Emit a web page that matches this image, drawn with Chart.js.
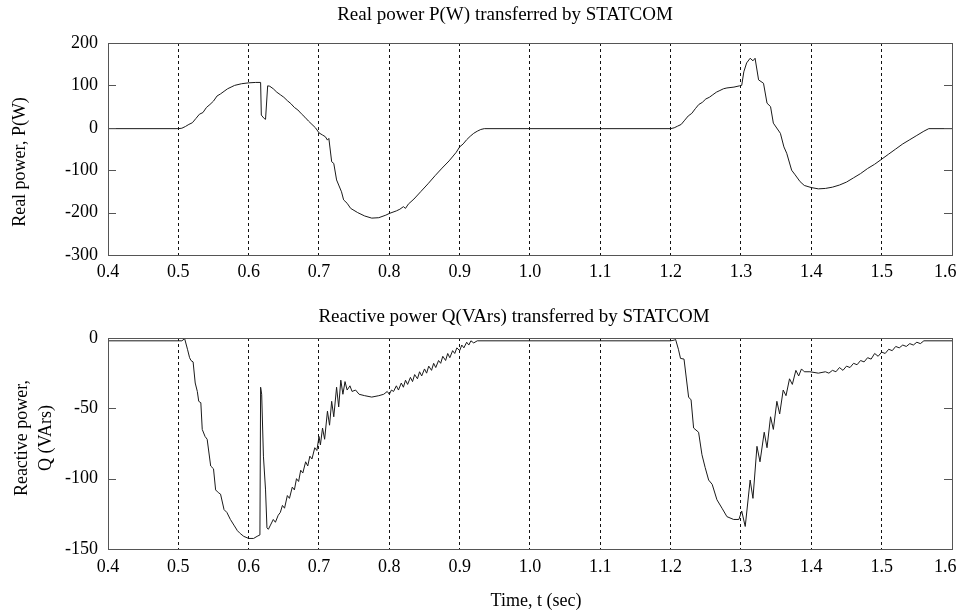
<!DOCTYPE html>
<html>
<head>
<meta charset="utf-8">
<script src="https://cdn.jsdelivr.net/npm/chart.js@4.4.1/dist/chart.umd.min.js"></script>
<style>
  html, body { margin: 0; padding: 0; background: #fff; }
  #wrap { position: relative; width: 960px; height: 612px; }
  #c1 { position: absolute; left: 0; top: 0; }
  #c2 { position: absolute; left: 0; top: 290px; }
</style>
</head>
<body>
<div id="wrap">
  <canvas id="c1" width="960" height="290"></canvas>
  <canvas id="c2" width="960" height="322"></canvas>
</div>
<script>
// ---- Titles and labels ----
const titleP = "Real power P(W) transferred by STATCOM";
const titleQ = "Reactive power Q(VArs) transferred by STATCOM";
const yLabelP = ["Real power, P(W)"];
const yLabelQ = ["Reactive power,", "Q (VArs)"];
const xLabel = "Time, t (sec)";

// ---- Axis ticks ----
const xTicks = [0.4, 0.5, 0.6, 0.7, 0.8, 0.9, 1.0, 1.1, 1.2, 1.3, 1.4, 1.5, 1.6];
const yTicksP = [200, 100, 0, -100, -200, -300];
const yTicksQ = [0, -50, -100, -150];

// ---- Real power P(W) ----
const timeP = [
  0.400, 0.500, 0.505, 0.510, 0.515, 0.520, 0.525, 0.530, 0.535, 0.540,
  0.545, 0.550, 0.555, 0.560, 0.565, 0.570, 0.575, 0.580, 0.590, 0.600,
  0.610, 0.617, 0.618, 0.622, 0.624, 0.627, 0.630, 0.635, 0.640, 0.645,
  0.650, 0.655, 0.660, 0.665, 0.670, 0.675, 0.680, 0.685, 0.690, 0.695,
  0.700, 0.705, 0.709, 0.712, 0.714, 0.718, 0.721, 0.725, 0.728, 0.732,
  0.735, 0.740, 0.745, 0.755, 0.765, 0.775, 0.785, 0.795, 0.800, 0.810,
  0.815, 0.820, 0.823, 0.827, 0.835, 0.845, 0.855, 0.865, 0.875, 0.885,
  0.895, 0.900, 0.905, 0.910, 0.915, 0.920, 0.925, 0.930, 0.935, 1.200,
  1.205, 1.210, 1.215, 1.220, 1.225, 1.230, 1.235, 1.240, 1.245, 1.250,
  1.255, 1.260, 1.265, 1.270, 1.275, 1.280, 1.290, 1.298, 1.301, 1.304,
  1.308, 1.313, 1.317, 1.320, 1.325, 1.332, 1.337, 1.342, 1.346, 1.356,
  1.361, 1.365, 1.372, 1.377, 1.384, 1.390, 1.400, 1.410, 1.420, 1.430,
  1.440, 1.450, 1.460, 1.470, 1.480, 1.490, 1.500, 1.510, 1.520, 1.530,
  1.540, 1.550, 1.560, 1.567, 1.600
];
const valueP = [
  -2, -2, -1, 3, 8, 12, 22, 32, 36, 48,
  55, 63, 75, 80, 86, 92, 96, 100, 104, 106,
  107, 107, 30, 22, 20, 99, 98, 92, 84, 78,
  72, 64, 57, 48, 42, 33, 25, 16, 8, 0,
  -12, -17, -21, -29, -25, -80, -84, -123, -135, -151,
  -170, -178, -190, -200, -208, -213, -212, -206, -202, -196,
  -192, -186, -190, -180, -168, -150, -132, -113, -95, -78,
  -58, -45, -38, -28, -20, -13, -8, -4, -2, -2,
  0, 4, 8, 18, 28, 34, 45, 55, 60, 68,
  72, 78, 84, 88, 92, 94, 96, 99, 100, 132,
  153, 164, 158, 164, 113, 105, 58, 50, 11, -13,
  -45, -60, -100, -111, -127, -136, -141, -144, -143, -140,
  -135, -128, -118, -108, -96, -86, -74, -62, -50, -38,
  -28, -18, -8, -2, -2
];

// ---- Reactive power Q(VArs) ----
const timeQ = [
  0.400, 0.500, 0.505, 0.509, 0.513, 0.516, 0.518, 0.521, 0.524, 0.527,
  0.529, 0.532, 0.534, 0.538, 0.541, 0.546, 0.550, 0.553, 0.557, 0.560,
  0.565, 0.569, 0.574, 0.579, 0.584, 0.588, 0.593, 0.600, 0.607, 0.612,
  0.616, 0.617, 0.6185, 0.621, 0.624, 0.626, 0.628, 0.631, 0.635, 0.638,
  0.642, 0.645, 0.648, 0.651, 0.655, 0.658, 0.662, 0.665, 0.668, 0.671,
  0.674, 0.677, 0.681, 0.684, 0.687, 0.690, 0.694, 0.697, 0.700, 0.702,
  0.705, 0.708, 0.712, 0.715, 0.718, 0.721, 0.725, 0.728, 0.731, 0.734,
  0.737, 0.740, 0.744, 0.747, 0.752, 0.757, 0.765, 0.775, 0.785, 0.792,
  0.797, 0.800, 0.803, 0.806, 0.810, 0.813, 0.817, 0.820, 0.823, 0.826,
  0.830, 0.833, 0.836, 0.840, 0.843, 0.846, 0.850, 0.853, 0.856, 0.860,
  0.863, 0.866, 0.870, 0.873, 0.876, 0.880, 0.883, 0.886, 0.890, 0.893,
  0.896, 0.900, 0.903, 0.906, 0.910, 0.913, 0.916, 0.920, 0.925, 1.200,
  1.205, 1.207, 1.211, 1.214, 1.219, 1.2255, 1.229, 1.2326, 1.2397, 1.2445,
  1.249, 1.254, 1.259, 1.2658, 1.273, 1.280, 1.2895, 1.297, 1.301, 1.306,
  1.313, 1.317, 1.3227, 1.327, 1.333, 1.337, 1.342, 1.346, 1.351, 1.355,
  1.360, 1.364, 1.369, 1.373, 1.378, 1.382, 1.386, 1.390, 1.398, 1.410,
  1.420, 1.425, 1.430, 1.435, 1.440, 1.445, 1.450, 1.455, 1.460, 1.465,
  1.470, 1.475, 1.480, 1.485, 1.490, 1.495, 1.500, 1.505, 1.510, 1.515,
  1.520, 1.525, 1.530, 1.535, 1.540, 1.545, 1.550, 1.555, 1.560, 1.600
];
const valueQ = [
  -2, -2, -2, -0.5, -8, -14, -16, -17, -32, -38,
  -45, -46, -65, -70, -72, -91, -93, -108, -110, -111,
  -122, -124, -129, -133, -137, -139, -141, -142.5, -142.5, -141,
  -140, -35, -40, -84, -108, -135, -136, -133, -129, -131,
  -126, -124, -119, -121, -112, -114, -106, -108, -100, -102,
  -94, -96, -88, -91, -84, -86, -78, -80, -70, -76,
  -64, -72, -52, -62, -45, -56, -35, -49, -30, -40,
  -31, -37, -34, -38, -37, -40, -41, -42, -41, -40,
  -38, -40, -37, -38, -34, -37, -32, -35, -30, -33,
  -28, -31, -26, -29, -24, -27, -22, -25, -20, -23,
  -18, -21, -16, -18, -13, -16, -11, -14, -9, -11,
  -7, -9, -5, -7, -3, -5, -2, -3.5, -2, -2,
  -1.5, -1, -8, -14.5, -15, -42, -44, -64, -67, -83,
  -92, -101, -104, -115, -121, -127, -129, -129, -123, -134,
  -101, -114, -77, -88, -67, -78, -56, -65, -45, -54,
  -37, -41, -29, -33, -23, -27, -22, -24, -24, -25,
  -24, -25, -23, -24, -21, -23, -20, -21, -18, -19,
  -16, -17, -14, -15, -11, -13, -10, -11, -8, -9,
  -6, -7, -5, -6, -4, -5, -3, -4, -2, -2
];

const FONT = "'Liberation Serif', 'Times New Roman', serif";

function pairs(xs, ys) { return xs.map((x, i) => ({ x: x, y: ys[i] })); }

// plugin: frame, inward ticks, and text labels
function framePlugin(cfg) {
  return {
    id: 'frame' + cfg.id,
    afterDraw(chart) {
      const ctx = chart.ctx;
      const a = chart.chartArea;
      const ys = chart.scales.y;
      ctx.save();
      ctx.strokeStyle = '#555';
      ctx.lineWidth = 1;
      ctx.setLineDash([]);
      ctx.strokeRect(Math.round(a.left) + 0.5, Math.round(a.top) + 0.5,
                     Math.round(a.right - a.left), Math.round(a.bottom - a.top));
      cfg.ticks.forEach(v => {
        const py = Math.round(ys.getPixelForValue(v)) + 0.5;
        ctx.beginPath();
        ctx.moveTo(a.right, py);
        ctx.lineTo(a.right - 8, py);
        ctx.moveTo(a.left, py);
        ctx.lineTo(a.left + 8, py);
        ctx.stroke();
      });
      ctx.fillStyle = '#000';
      ctx.textAlign = 'center';
      ctx.textBaseline = 'middle';
      ctx.font = '19px ' + FONT;
      ctx.fillText(cfg.title, cfg.titleX, cfg.titleY);
      ctx.font = '18px ' + FONT;
      cfg.yLabel.forEach((txt, i) => {
        ctx.save();
        ctx.translate(cfg.yLabelX[i], cfg.yLabelY);
        ctx.rotate(-Math.PI / 2);
        ctx.fillText(txt, 0, 0);
        ctx.restore();
      });
      if (cfg.xLabel) ctx.fillText(cfg.xLabel, cfg.xLabelX, cfg.xLabelY);
      ctx.restore();
    }
  };
}

function makeChart(el, data, ymin, ymax, padTop, xHeight, xPad, cfg) {
  return new Chart(el, {
    type: 'line',
    data: {
      datasets: [{
        data: data,
        borderColor: '#1a1a1a',
        borderWidth: 1,
        pointRadius: 0,
        tension: 0,
        fill: false
      }]
    },
    options: {
      responsive: false,
      animation: false,
      devicePixelRatio: 1,
      layout: { autoPadding: false, padding: { top: padTop, right: 8, left: 0, bottom: 0 } },
      plugins: { legend: { display: false }, tooltip: { enabled: false }, title: { display: false } },
      scales: {
        x: {
          type: 'linear',
          min: 0.4, max: 1.6,
          afterBuildTicks: (s) => { s.ticks = xTicks.map(v => ({ value: v })); },
          afterFit: (s) => { s.height = xHeight; s.paddingLeft = 0; s.paddingRight = 0; },
          border: { display: false, dash: [3, 3] },
          grid: { display: true, color: '#111', lineWidth: 1, drawTicks: false, tickLength: 0 },
          ticks: {
            autoSkip: false, maxRotation: 0, padding: xPad,
            color: '#000', font: { family: FONT, size: 18 },
            callback: (v) => Math.abs(v - 1.6) < 1e-9 ? '1.6   ' : Number(v).toFixed(1)
          }
        },
        y: {
          min: ymin, max: ymax,
          afterBuildTicks: (s) => { s.ticks = cfg.ticks.map(v => ({ value: v })); },
          afterFit: (s) => { s.width = 108; s.paddingTop = 0; s.paddingBottom = 0; },
          border: { display: false },
          grid: { display: false, drawTicks: false, tickLength: 0 },
          ticks: { padding: 10, color: '#000', font: { family: FONT, size: 18 } }
        }
      }
    },
    plugins: [framePlugin(cfg)]
  });
}

makeChart(document.getElementById('c1'), pairs(timeP, valueP),
  -300, 200, 43, 35, 6, {
    id: 1, ticks: yTicksP, title: titleP, titleX: 505, titleY: 15,
    yLabel: yLabelP, yLabelX: [20], yLabelY: 162
  });

makeChart(document.getElementById('c2'), pairs(timeQ, valueQ),
  -150, 0, 48, 63, 7, {
    id: 2, ticks: yTicksQ, title: titleQ, titleX: 514, titleY: 27,
    yLabel: yLabelQ, yLabelX: [22, 46], yLabelY: 148,
    xLabel: xLabel, xLabelX: 536, xLabelY: 311
  });
</script>
</body>
</html>
